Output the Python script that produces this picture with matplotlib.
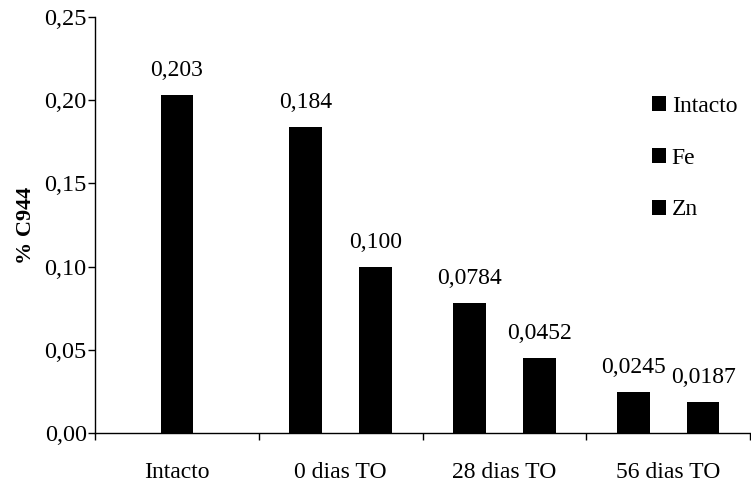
import numpy as np
import matplotlib.pyplot as plt
from matplotlib.ticker import FuncFormatter, FixedLocator

categories = ["Intacto", "0 dias TO", "28 dias TO", "56 dias TO"]

intacto_vals = [0.203]
intacto_labels = ["0,203"]

fe_vals = [0.184, 0.0784, 0.0245]
fe_labels = ["0,184", "0,0784", "0,0245"]

zn_vals = [0.100, 0.0452, 0.0187]
zn_labels = ["0,100", "0,0452", "0,0187"]

plt.rcParams["font.family"] = ["Liberation Serif", "DejaVu Serif"]

fig = plt.figure(figsize=(7.51, 4.86), dpi=100)
ax = fig.add_axes([95 / 751, 53 / 486, (750 - 95) / 751, (433 - 17) / 486])

width = 0.2
offset = 0.213
x = np.arange(len(categories))

b1 = ax.bar(x[:1], intacto_vals, width, color="black", label="Intacto")
b2 = ax.bar(x[1:] - offset, fe_vals, width, color="black", label="Fe")
b3 = ax.bar(x[1:] + offset, zn_vals, width, color="black", label="Zn")

for bars, labs in [(b1, intacto_labels), (b2, fe_labels), (b3, zn_labels)]:
    ax.bar_label(bars, labels=labs, padding=10, fontsize=17)

ax.set_xlim(-0.5, len(categories) - 0.5)
ax.set_ylim(0, 0.25)
ax.set_yticks(np.arange(0, 0.2501, 0.05))
ax.yaxis.set_major_formatter(FuncFormatter(lambda v, p: f"{v:.2f}".replace(".", ",")))

ax.set_xticks(x)
ax.set_xticklabels(categories, fontsize=17)
ax.tick_params(axis="x", which="major", length=0, pad=21)
ax.xaxis.set_minor_locator(FixedLocator(np.arange(-0.5, len(categories), 1.0)))
ax.tick_params(axis="x", which="minor", length=5, direction="out", width=1)
ax.tick_params(axis="y", labelsize=17.5, length=5, direction="out", width=1, pad=1)

ax.spines["top"].set_visible(False)
ax.spines["right"].set_visible(False)
ax.spines["left"].set_linewidth(1)
ax.spines["bottom"].set_linewidth(1)

ax.set_ylabel("% C944", fontsize=16, fontweight="bold", labelpad=6)

fig.legend(handles=[b1, b2, b3], loc="upper left", bbox_to_anchor=(0.855, 0.822),
           frameon=False, fontsize=17, handlelength=0.6, handleheight=0.6,
           handletextpad=0.25, labelspacing=1.3, borderaxespad=0)

fig.savefig("out.png", dpi=100)
